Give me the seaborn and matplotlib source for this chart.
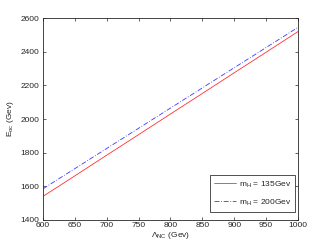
import numpy as np
import pandas as pd
import matplotlib
matplotlib.use("Agg")
import matplotlib.pyplot as plt
import seaborn as sns

# Values
lambda_nc = [600, 650, 700, 750, 800, 850, 900, 950, 1000]
e_oc_135 = [1540, 1662, 1785, 1907, 2030, 2152, 2275, 2397, 2520]
e_oc_200 = [1585, 1705, 1825, 1945, 2065, 2185, 2305, 2425, 2545]
labels = ["m$_\\mathrm{H}$ = 135Gev", "m$_\\mathrm{H}$ = 200Gev"]

df = pd.DataFrame({
    "lambda": lambda_nc * 2,
    "E": e_oc_135 + e_oc_200,
    "mH": [labels[0]] * len(lambda_nc) + [labels[1]] * len(lambda_nc),
})

sns.set_style("ticks")
plt.rcParams["font.family"] = ["Liberation Sans", "DejaVu Sans"]
plt.rcParams["mathtext.fontset"] = "custom"
plt.rcParams["mathtext.rm"] = "Liberation Sans"

fig = plt.figure(figsize=(3.3, 2.48), dpi=100)
ax = fig.add_axes([0.130, 0.113, 0.773, 0.814])

sns.lineplot(data=df, x="lambda", y="E", hue="mH", style="mH",
             palette=["#ff3030", "#3a3aff"], dashes=[(None, None), (6, 2, 1, 2)],
             linewidth=0.6, ax=ax, legend=False)
ax.lines[0].set_linestyle("-")

ax.set_xlim(600, 1000)
ax.set_ylim(1400, 2600)
ax.set_xticks(np.arange(600, 1001, 50))
ax.set_yticks(np.arange(1400, 2601, 200))
ax.tick_params(direction="in", length=2.5, width=0.5, labelsize=6, pad=1.5,
               top=True, right=True)
ax.tick_params(axis="y", pad=2.5)
for s in ax.spines.values():
    s.set_linewidth(0.6)
    s.set_visible(True)

ax.set_xlabel("$\\Lambda_\\mathrm{NC}$ (Gev)", fontsize=6, labelpad=1)
ax.set_ylabel("E$_\\mathrm{oc}$ (Gev)", fontsize=6, labelpad=3)

leg = ax.legend(handles=ax.lines[:2], labels=labels, loc="lower right",
                fontsize=6, frameon=True, fancybox=False,
                edgecolor="black", handlelength=2.6, handletextpad=0.4,
                borderpad=0.5, labelspacing=0.9, borderaxespad=0,
                bbox_to_anchor=(0.99, 0.04))
leg.get_frame().set_linewidth(0.6)

fig.savefig("out.png", dpi=100)
